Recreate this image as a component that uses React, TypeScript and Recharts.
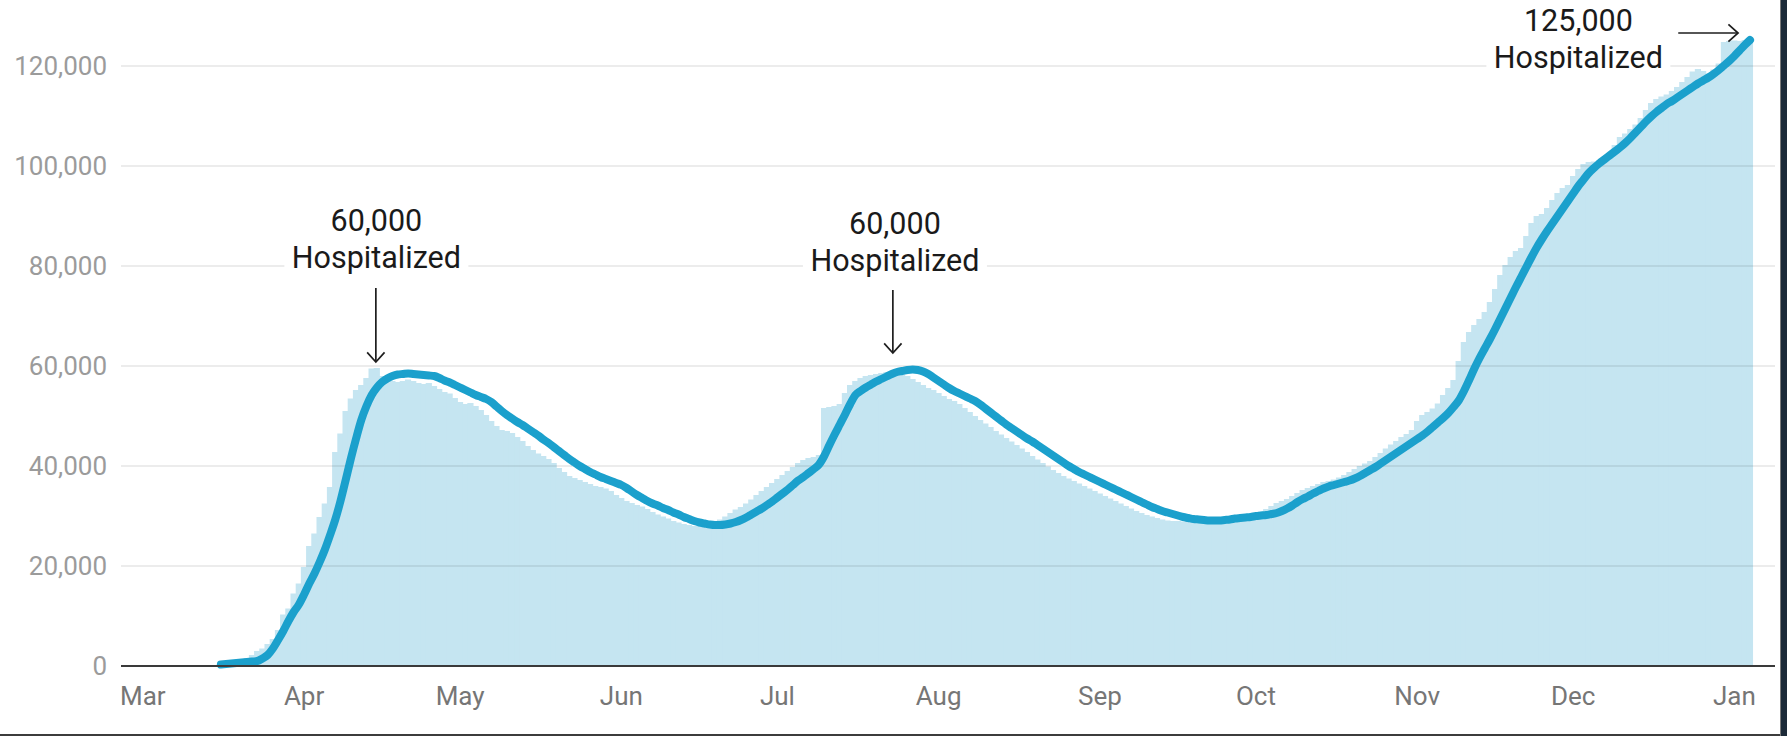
import React from 'react';
import { ComposedChart, Bar, Line, XAxis, YAxis, ReferenceLine, ReferenceDot } from 'recharts';

// Day index = days after March 1 (2020). Values in thousands of people hospitalized.
const FIRST_DAY = 15;

const dailyHospitalized = [
  0.4, 0.5, 0.7, 0.9, 1.2, 1.6, 2.2, 3.0, 3.5, 4.4,
  5.4, 7.2, 10.3, 11.5, 14.5, 16.5, 19.8, 24.0, 26.5, 29.8,
  32.5, 35.8, 42.8, 46.5, 51.0, 53.5, 55.2, 56.2, 57.6, 59.5,
  59.6, 58.0, 57.4, 57.0, 56.8, 57.0, 57.3, 57.0, 56.6, 56.4,
  56.6, 56.0, 55.4, 54.8, 54.5, 53.6, 52.8, 52.4, 52.6, 52.0,
  51.2, 50.2, 49.0, 48.0, 47.2, 47.0, 46.6, 45.8, 45.0, 44.0,
  43.2, 42.5, 42.0, 41.4, 40.6, 39.6, 38.8, 38.0, 37.6, 37.2,
  36.8, 36.4, 36.0, 35.8, 35.5, 35.0, 34.2, 33.6, 33.0, 32.6,
  32.2, 31.9, 31.4, 30.8, 30.3, 29.9, 29.5, 29.0, 28.7, 28.4,
  28.2, 28.0, 28.0, 28.1, 28.4, 28.8, 29.3, 29.9, 30.6, 31.3,
  31.8, 32.5, 33.3, 34.2, 35.0, 35.8, 36.6, 37.4, 38.2, 39.0,
  39.8, 40.6, 41.2, 41.6, 41.8, 42.2, 51.6, 51.8, 52.0, 52.4,
  54.6, 56.2, 57.0, 57.6, 58.0, 58.2, 58.4, 58.6, 58.8, 58.9,
  58.7, 58.4, 58.0, 57.4, 56.8, 56.2, 55.6, 55.2, 54.6, 54.0,
  53.4, 53.0, 52.4, 51.6, 50.8, 50.0, 49.2, 48.5, 47.8, 47.0,
  46.3, 45.6, 44.9, 44.2, 43.5, 42.8, 42.0, 41.3, 40.6, 39.9,
  39.2, 38.6, 38.0, 37.5, 37.0, 36.5, 36.0, 35.5, 35.0, 34.5,
  34.0, 33.5, 33.0, 32.5, 32.0, 31.5, 31.0, 30.6, 30.2, 29.9,
  29.6, 29.3, 29.1, 29.0, 29.0, 28.9, 29.0, 29.0, 29.1, 29.2,
  29.3, 29.5, 29.6, 29.8, 29.9, 30.0, 30.1, 30.2, 30.4, 30.6,
  30.9, 31.4, 32.0, 32.6, 33.0, 33.4, 34.0, 34.6, 35.2, 35.6,
  36.0, 36.4, 36.8, 37.0, 37.3, 37.7, 38.2, 38.8, 39.4, 40.0,
  40.5, 41.0, 41.8, 42.6, 43.5, 44.3, 45.0, 45.8, 46.4, 47.2,
  49.0, 50.2, 50.8, 51.5, 52.5, 54.2, 55.6, 57.2, 61.0, 64.8,
  66.8, 68.2, 69.4, 70.8, 72.8, 75.4, 78.2, 80.2, 81.8, 83.0,
  83.6, 86.0, 88.6, 90.0, 90.4, 91.6, 93.2, 94.6, 95.6, 96.2,
  98.0, 99.4, 100.4, 100.8, 100.9, 101.2, 101.6, 102.4, 104.2, 105.8,
  106.5, 107.4, 108.3, 109.6, 111.2, 112.6, 113.4, 113.9, 114.3, 115.0,
  115.8, 116.8, 117.8, 118.9, 119.4, 119.0, 118.5, 119.3, 120.5, 124.8,
  125.0, 125.1, 125.0, 125.2, 125.3,
];

const sevenDayAverage = [
  0.3, 0.4, 0.5, 0.6, 0.7, 0.8, 0.9, 1.0, 1.5, 2.2,
  3.5, 5.2, 7.0, 9.0, 10.8, 12.3, 14.3, 16.5, 18.5, 20.8,
  23.3, 26.2, 29.3, 33.0, 37.2, 41.5, 45.5, 49.2, 52.0, 54.2,
  55.7, 56.8, 57.5, 58.0, 58.3, 58.4, 58.5, 58.4, 58.3, 58.2,
  58.1, 58.0, 57.6, 57.1, 56.7, 56.2, 55.7, 55.2, 54.7, 54.2,
  53.8, 53.4, 52.8, 51.9, 51.0, 50.2, 49.5, 48.8, 48.2, 47.5,
  46.8, 46.1, 45.3, 44.6, 43.8, 43.0, 42.2, 41.4, 40.7, 40.0,
  39.4, 38.8, 38.3, 37.8, 37.4, 37.0, 36.6, 36.2, 35.6, 34.9,
  34.2, 33.6, 33.0, 32.5, 32.1, 31.6, 31.2, 30.7, 30.3, 29.8,
  29.4, 29.0, 28.7, 28.5, 28.3, 28.2, 28.2, 28.3, 28.5, 28.8,
  29.2, 29.7, 30.3, 30.9, 31.5, 32.2, 32.9, 33.7, 34.5, 35.3,
  36.2, 37.1, 37.8, 38.6, 39.4, 40.3, 42.0, 44.2, 46.3, 48.3,
  50.3, 52.4, 54.2, 55.0, 55.7, 56.3, 56.9, 57.4, 57.9, 58.4,
  58.8, 59.0, 59.2, 59.3, 59.2, 58.9, 58.4, 57.7, 57.0, 56.3,
  55.6, 55.0, 54.5, 54.0, 53.5, 53.0, 52.3, 51.5, 50.7, 49.9,
  49.1, 48.3, 47.6, 46.9, 46.2, 45.5, 44.9, 44.2, 43.5, 42.8,
  42.1, 41.4, 40.7, 40.0, 39.4, 38.8, 38.3, 37.8, 37.3, 36.8,
  36.3, 35.8, 35.3, 34.8, 34.3, 33.8, 33.3, 32.8, 32.3, 31.8,
  31.4, 31.0, 30.7, 30.4, 30.1, 29.8, 29.6, 29.4, 29.3, 29.2,
  29.1, 29.1, 29.1, 29.2, 29.3, 29.5, 29.6, 29.7, 29.8, 30.0,
  30.1, 30.2, 30.4, 30.6, 31.0, 31.5, 32.1, 32.8, 33.4, 33.9,
  34.5, 35.0, 35.5, 35.9, 36.2, 36.5, 36.8, 37.1, 37.5, 38.0,
  38.6, 39.2, 39.8, 40.5, 41.2, 41.9, 42.6, 43.3, 44.0, 44.7,
  45.4, 46.1, 46.9, 47.8, 48.7, 49.6, 50.6, 51.8, 53.1, 55.0,
  57.2, 59.5, 61.6, 63.5, 65.4, 67.4, 69.5, 71.6, 73.7, 75.8,
  77.8, 79.8, 81.8, 83.7, 85.4, 87.0, 88.5, 90.0, 91.5, 93.0,
  94.5, 96.0, 97.3, 98.6, 99.6, 100.5, 101.3, 102.1, 102.9, 103.7,
  104.6, 105.6, 106.7, 107.8, 108.9, 109.9, 110.8, 111.6, 112.4, 113.0,
  113.7, 114.4, 115.1, 115.8, 116.5, 117.1, 117.7, 118.4, 119.2, 120.1,
  121.0, 122.0, 123.1, 124.2, 125.2,
];

const monthTickDays = [0, 31, 61, 92, 122, 153, 184, 214, 245, 275, 306];
const monthLabels = ['Mar', 'Apr', 'May', 'Jun', 'Jul', 'Aug', 'Sep', 'Oct', 'Nov', 'Dec', 'Jan'];
const yTicks = [0, 20000, 40000, 60000, 80000, 100000, 120000];
const gridValues = [20000, 40000, 60000, 80000, 100000, 120000];

// Annotations (data coordinates)
const annotationTexts = [
  ['60,000', 'Hospitalized'],
  ['60,000', 'Hospitalized'],
  ['125,000', 'Hospitalized'],
];
const annotationTextAnchors = [
  { x: 44.9, y: 79540 },
  { x: 144.6, y: 79060 },
  { x: 276.0, y: 119540 },
];
const annotationArrows = [
  [{ x: 44.8, y: 75600 }, { x: 44.8, y: 60800 }],
  [{ x: 144.2, y: 75200 }, { x: 144.2, y: 62600 }],
  [{ x: 295.2, y: 126600 }, { x: 306.7, y: 126600 }],
];

const data = dailyHospitalized.map((v, i) => ({
  day: FIRST_DAY + i,
  daily: v * 1000,
  avg: sevenDayAverage[i] * 1000,
}));

const FONT = 'Roboto, "Noto Sans", sans-serif';
const BAR_FILL = '#c5e5f1';

const DayBar = (props: any) => {
  const { x, y, width, height } = props;
  if (height == null || height <= 0) return <g />;
  const cx = x + width / 2;
  return <rect x={cx - 3.1} y={y} width={6.2} height={height} fill={BAR_FILL} />;
};

const ArrowShape = (props: any) => {
  const { x1, y1, x2, y2 } = props;
  const ang = Math.atan2(y2 - y1, x2 - x1);
  const len = 13;
  const spread = (42 * Math.PI) / 180;
  const ax = x2 - len * Math.cos(ang - spread);
  const ay = y2 - len * Math.sin(ang - spread);
  const bx = x2 - len * Math.cos(ang + spread);
  const by = y2 - len * Math.sin(ang + spread);
  return (
    <g>
      <line x1={x1} y1={y1} x2={x2} y2={y2} stroke="#1e1e1e" strokeWidth={1.7} />
      <polyline
        points={`${ax},${ay} ${x2},${y2} ${bx},${by}`}
        fill="none"
        stroke="#1e1e1e"
        strokeWidth={1.7}
      />
    </g>
  );
};

const makeTextShape = (lines: string[]) => (props: any) => {
  const { cx, cy } = props;
  const lineGap = 37;
  const n = lines.length;
  const top = cy - (n - 1) * lineGap - 28;
  return (
    <g>
      <rect x={cx - 92} y={top} width={184} height={cy + 10 - top} fill="#ffffff" />
      {lines.map((t, i) => (
        <text
          key={i}
          x={cx}
          y={cy - (n - 1 - i) * lineGap}
          textAnchor="middle"
          fontFamily={FONT}
          fontSize={30.5}
          fill="#1a1a1a"
        >
          {t}
        </text>
      ))}
    </g>
  );
};

export default function App() {
  return (
    <div style={{ position: 'absolute', left: 0, top: 0, width: 1787, height: 736, background: '#fff' }}>
      <ComposedChart
        width={1787}
        height={736}
        data={data}
        margin={{ top: 16, right: 12, left: 0, bottom: 40 }}
        barCategoryGap={0}
        barGap={0}
      >
        <XAxis
          dataKey="day"
          type="number"
          domain={[-4.2, 313.8]}
          ticks={monthTickDays}
          interval={0}
          tickFormatter={(d: number) => monthLabels[monthTickDays.indexOf(d)]}
          tickLine={false}
          axisLine={{ stroke: '#3a3a3a', strokeWidth: 2 }}
          tick={{ fill: '#767676', fontSize: 26, fontFamily: FONT }}
          tickMargin={15}
          height={30}
          allowDataOverflow
        />
        <YAxis
          type="number"
          domain={[0, 130000]}
          ticks={yTicks}
          interval={0}
          tickFormatter={(v: number) => v.toLocaleString('en-US')}
          tickLine={false}
          axisLine={false}
          tick={{ fill: '#9b9b9b', fontSize: 26, fontFamily: FONT }}
          tickMargin={8}
          width={121}
        />
        <Bar dataKey="daily" fill={BAR_FILL} shape={DayBar} isAnimationActive={false} />
        {gridValues.map((g) => (
          <ReferenceLine key={g} y={g} stroke="#000000" strokeOpacity={0.1} strokeWidth={1.5} />
        ))}
        <Line
          dataKey="avg"
          type="monotone"
          stroke="#1ba0cc"
          strokeWidth={8}
          strokeLinecap="round"
          strokeLinejoin="round"
          dot={false}
          activeDot={false}
          isAnimationActive={false}
        />
        {annotationArrows.map((seg, i) => (
          <ReferenceLine key={'a' + i} segment={seg} shape={ArrowShape} ifOverflow="visible" />
        ))}
        {annotationTextAnchors.map((p, i) => (
          <ReferenceDot
            key={'t' + i}
            x={p.x}
            y={p.y}
            r={0}
            ifOverflow="visible"
            shape={makeTextShape(annotationTexts[i])}
          />
        ))}
      </ComposedChart>
      <div style={{ position: 'absolute', left: 0, top: 734, width: 1780, height: 2, background: '#3c3c3c' }} />
      <div style={{ position: 'absolute', left: 1780, top: 0, width: 1, height: 736, background: '#7a7a7a' }} />
      <div style={{ position: 'absolute', left: 1781, top: 0, width: 6, height: 736, background: '#1c2a38' }} />
    </div>
  );
}
